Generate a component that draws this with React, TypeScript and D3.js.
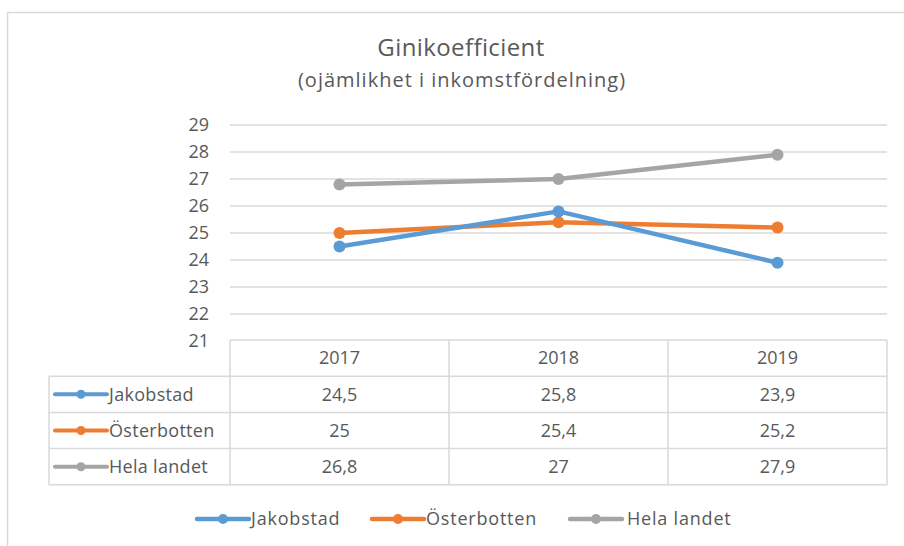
import React from 'react';
import * as d3 from 'd3';

// data
const years = ['2017', '2018', '2019'];
const jakobstad = [24.5, 25.8, 23.9];
const osterbotten = [25, 25.4, 25.2];
const helaLandet = [26.8, 27, 27.9];
const yTicks = [21, 22, 23, 24, 25, 26, 27, 28, 29];

const series = [
  { name: 'Jakobstad', values: jakobstad, color: '#5B9BD5' },
  { name: 'Österbotten', values: osterbotten, color: '#ED7D31' },
  { name: 'Hela landet', values: helaLandet, color: '#A5A5A5' },
];

const W = 904;
const H = 546;
const FONT = '"Open Sans", "Noto Sans", sans-serif';
const TXT = '#595959';
const GRID = '#d9d9d9';

export default function App() {
  const plotLeft = 230;
  const plotRight = 887;
  const plotTop = 125;
  const plotBottom = 341;

  const x = d3.scaleBand().domain(years).range([plotLeft, plotRight]).padding(0);
  const y = d3.scaleLinear().domain([21, 29]).range([plotBottom, plotTop]);
  const cx = (yr: string) => (x(yr) as number) + x.bandwidth() / 2;

  const line = d3
    .line<number>()
    .x((_, i) => cx(years[i]))
    .y((d) => y(d));

  // table
  const tableLeft = 49;
  const rowH = 36.2;
  const headerTop = plotBottom - 1;
  const rowsTop = headerTop + rowH;
  const tableBottom = rowsTop + rowH * series.length;
  const fmt = (v: number) => String(v).replace('.', ',');

  const legendItems = [
    { x0: 197, tx: 251 },
    { x0: 372, tx: 426 },
    { x0: 570, tx: 627 },
  ];

  return (
    <svg width={W} height={H} style={{ position: 'absolute', left: 0, top: 0 }} fontFamily={FONT}>
      <rect x={0} y={0} width={W} height={H} fill='#fff' />
      <rect x={7.5} y={12.5} width={W + 20} height={H + 20} fill='none' stroke={GRID} strokeWidth={1.5} />

      <text x={461} y={56} textAnchor='middle' fontSize={24} letterSpacing={0.4} fill={TXT}>
        Ginikoefficient
      </text>
      <text x={462} y={87} textAnchor='middle' fontSize={20} letterSpacing={1} fill={TXT}>
        (ojämlikhet i inkomstfördelning)
      </text>

      {/* gridlines */}
      {yTicks.slice(1).map((t) => (
        <line key={t} x1={plotLeft} x2={plotRight} y1={y(t)} y2={y(t)} stroke={GRID} strokeWidth={1.3} />
      ))}
      {yTicks.map((t) => (
        <text key={'l' + t} x={209} y={y(t)} dy='0.35em' textAnchor='end' fontSize={18} fill={TXT}>
          {t}
        </text>
      ))}

      {/* table grid */}
      <g stroke={GRID} strokeWidth={1.5} fill='none'>
        <line x1={plotLeft} x2={plotRight} y1={headerTop} y2={headerTop} />
        {[0, 1, 2, 3].map((i) => (
          <line key={'h' + i} x1={tableLeft} x2={plotRight} y1={rowsTop + i * rowH} y2={rowsTop + i * rowH} />
        ))}
        <line x1={tableLeft} x2={tableLeft} y1={rowsTop} y2={tableBottom} />
        {years.map((yr) => (
          <line key={'v' + yr} x1={x(yr)} x2={x(yr)} y1={headerTop} y2={tableBottom} />
        ))}
        <line x1={plotRight} x2={plotRight} y1={headerTop} y2={tableBottom} />
      </g>
      {years.map((yr) => (
        <text key={'y' + yr} x={cx(yr)} y={headerTop + rowH / 2} dy='0.35em' textAnchor='middle' fontSize={18} fill={TXT}>
          {yr}
        </text>
      ))}
      {series.map((s, r) => {
        const cy = rowsTop + r * rowH + rowH / 2;
        return (
          <g key={'row' + s.name}>
            <line x1={55} x2={107} y1={cy} y2={cy} stroke={s.color} strokeWidth={4} strokeLinecap='round' />
            <circle cx={81} cy={cy} r={4.5} fill={s.color} />
            <text x={109} y={cy} dy='0.35em' fontSize={18} letterSpacing={0.3} fill={TXT}>
              {s.name}
            </text>
            {s.values.map((v, i) => (
              <text key={i} x={cx(years[i])} y={cy} dy='0.35em' textAnchor='middle' fontSize={18} fill={TXT}>
                {fmt(v)}
              </text>
            ))}
          </g>
        );
      })}

      {/* lines */}
      {series
        .slice()
        .reverse()
        .map((s) => (
          <g key={'s' + s.name}>
            <path d={line(s.values) as string} fill='none' stroke={s.color} strokeWidth={4.5} strokeLinejoin='round' />
            {s.values.map((v, i) => (
              <circle key={i} cx={cx(years[i])} cy={y(v)} r={6} fill={s.color} />
            ))}
          </g>
        ))}

      {/* legend */}
      {series.map((s, i) => {
        const it = legendItems[i];
        const ly = 519;
        return (
          <g key={'lg' + s.name}>
            <line x1={it.x0} x2={it.x0 + 52} y1={ly} y2={ly} stroke={s.color} strokeWidth={4.5} strokeLinecap='round' />
            <circle cx={it.x0 + 26} cy={ly} r={5} fill={s.color} />
            <text x={it.tx} y={ly} dy='0.35em' fontSize={18} letterSpacing={0.8} fill={TXT}>
              {s.name}
            </text>
          </g>
        );
      })}
    </svg>
  );
}
